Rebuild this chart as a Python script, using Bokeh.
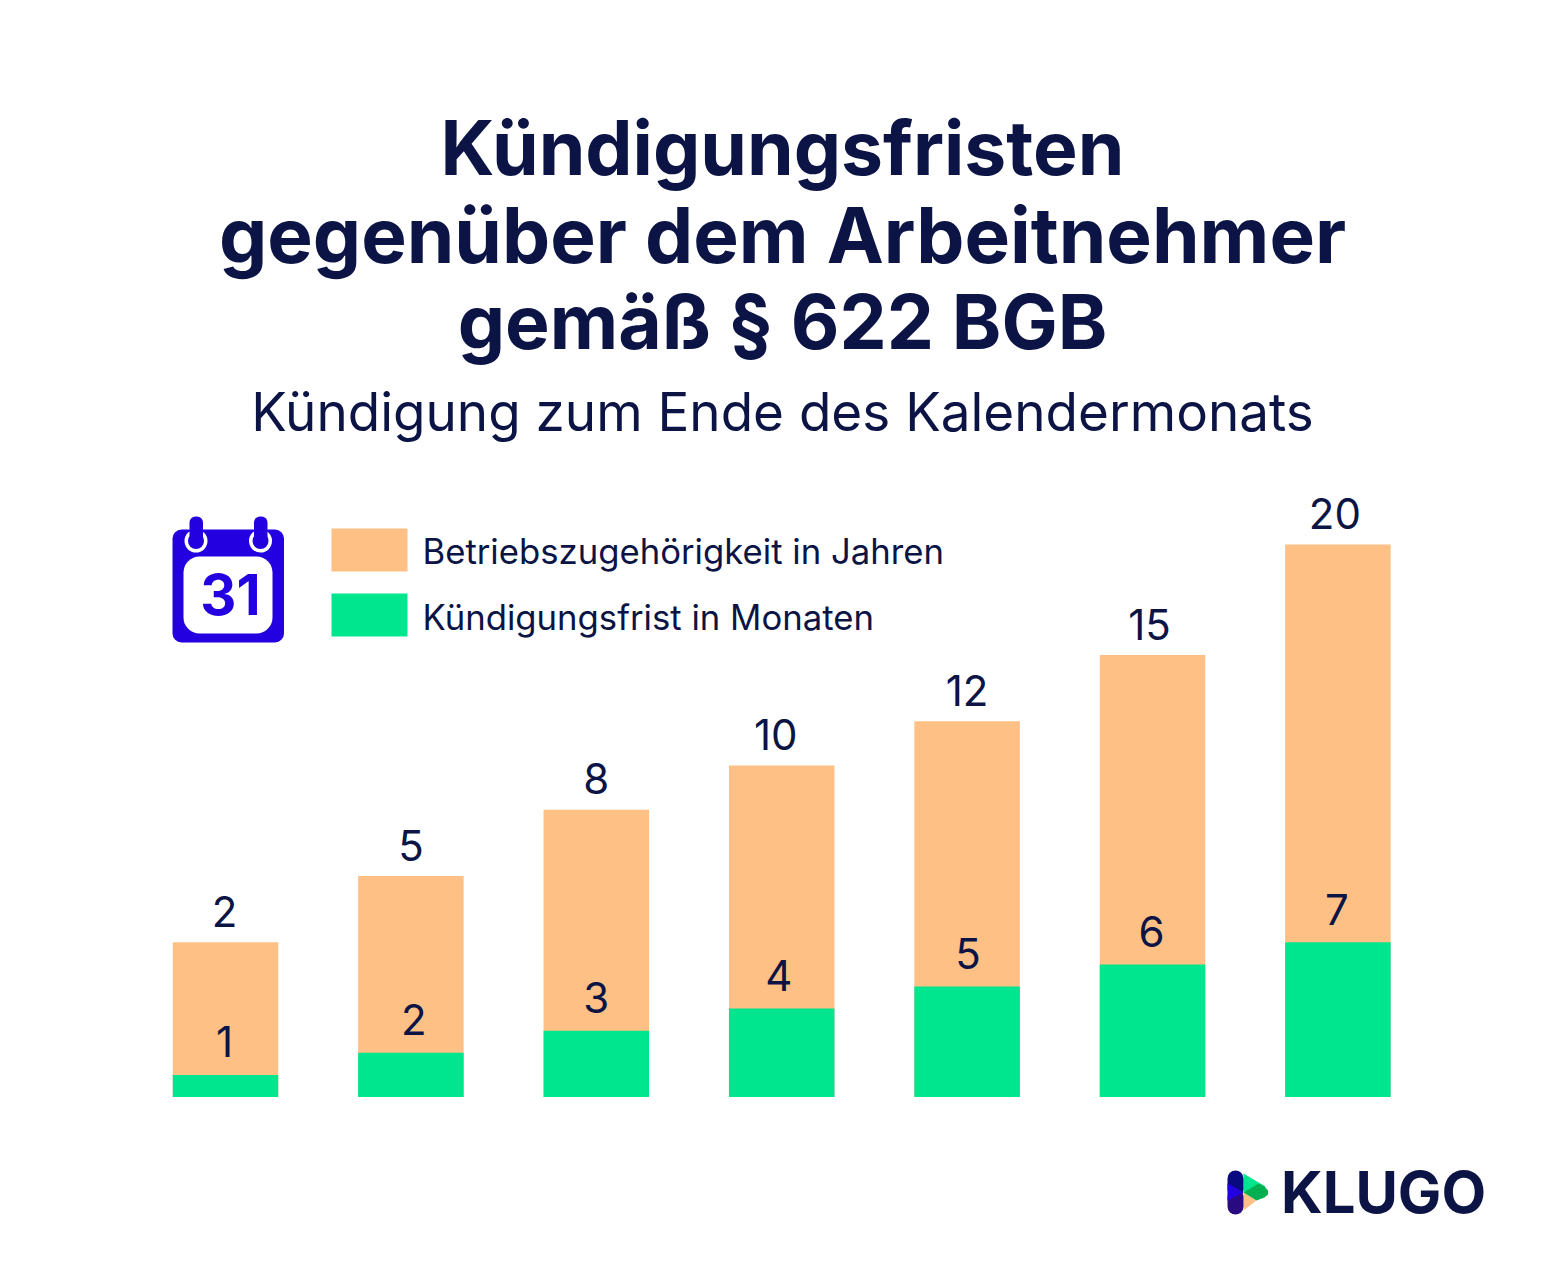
from bokeh.plotting import figure
from bokeh.models import Range1d, ColumnDataSource
from bokeh.embed import file_html
from bokeh.resources import INLINE
from bokeh.core.properties import value

# --- data -------------------------------------------------------------
positions = [0, 1, 2, 3, 4, 5, 6]
jahre_labels = ["2", "5", "8", "10", "12", "15", "20"]
monate_labels = ["1", "2", "3", "4", "5", "6", "7"]
# bar tops as drawn in the picture (same scale for both series)
orange_tops = [7, 10, 13, 15, 17, 20, 25]
green_tops = [1, 2, 3, 4, 5, 6, 7]
jahre_nudge = [-1, 0, 0, -6, 0, -3, -3]
monate_nudge = [-1, 3, 0, -3, 1, -1, -1]

title_lines = ["Kündigungsfristen", "gegenüber dem Arbeitnehmer", "gemäß § 622 BGB"]
title_sizes = [75, 76.5, 75]
subtitle = "Kündigung zum Ende des Kalendermonats"
legend_labels = ["Betriebszugehörigkeit in Jahren", "Kündigungsfrist in Monaten"]

NAVY = "#0B1444"; ORANGE = "#FFC085"; GREEN = "#00E68E"; BLUE = "#2200E0"
FONT = "Inter"
W, H = 1547, 1262
UNIT = 22.1; STEP = 185.4; X0 = 225; BASE = 1096.5

p = figure(width=W, height=H, output_backend="svg", toolbar_location=None,
           x_range=Range1d((0 - X0) / STEP, (W - X0) / STEP),
           y_range=Range1d((BASE - H) / UNIT, BASE / UNIT),
           min_border=0, outline_line_color=None, background_fill_color="white",
           x_axis_type=None, y_axis_type=None)
p.grid.visible = False
# pixel frame for decoration (title, legend, icon, logo)
p.extra_x_ranges["px"] = Range1d(0, W)
p.extra_y_ranges["px"] = Range1d(H, 0)
PX = dict(x_range_name="px", y_range_name="px")

src = ColumnDataSource(dict(x=positions, top_o=orange_tops, top_g=green_tops,
                            lab_o=jahre_labels, lab_g=monate_labels,
                            nud_o=jahre_nudge, nud_g=monate_nudge))
BW = 105.5 / STEP
p.vbar(x="x", top="top_o", bottom=0, width=BW, fill_color=ORANGE, line_color=None, source=src)
p.vbar(x="x", top="top_g", bottom=0, width=BW, fill_color=GREEN, line_color=None, source=src)
p.text(x="x", y="top_o", text="lab_o", x_offset="nud_o", y_offset=-31, text_align="center", text_baseline="middle",
       text_font=value(FONT), text_font_size="42px", text_color=NAVY, source=src)
p.text(x="x", y="top_g", text="lab_g", x_offset="nud_g", y_offset=-33, text_align="center", text_baseline="middle",
       text_font=value(FONT), text_font_size="42px", text_color=NAVY, source=src)

def label(x, y, t, size, color=NAVY, align="center", style="normal"):
    p.text(x=[x], y=[y], text=[t], text_align=align, text_baseline="middle",
           text_font=value(FONT), text_font_size=f"{size}px", text_color=color,
           text_font_style=style, **PX)

for y, t, s in zip([147, 234, 321], title_lines, title_sizes):
    label(782, y, t, s, style="bold")
label(782, 411, subtitle, 53)

# legend
p.quad(left=[331, 331], right=[407, 407], top=[528, 593], bottom=[571, 636],
       fill_color=[ORANGE, GREEN], line_color=None, **PX)
label(422, 550, legend_labels[0], 34.7, align="left")
label(422, 616, legend_labels[1], 34.7, align="left")

# calendar icon
p.quad(left=[172], right=[283.5], top=[529], bottom=[642], fill_color=BLUE, line_color=None, border_radius=9, **PX)
p.quad(left=[183], right=[272], top=[556], bottom=[633], fill_color="white", line_color=None, border_radius=16, **PX)
p.scatter(x=[195.5, 260], y=[540.5, 540.5], size=23, fill_color="white", line_color=None, **PX)
p.scatter(x=[195.5, 260], y=[540.5, 540.5], size=16, fill_color=BLUE, line_color=None, **PX)
p.quad(left=[189, 253.5], right=[202.5, 267], top=[516, 516], bottom=[544, 544], fill_color=BLUE, line_color=None,
       border_radius=6, **PX)
label(230, 594, "31", 56, color=BLUE, style="bold")

# logo
p.patch(x=[1243, 1265, 1258, 1243], y=[1173, 1186, 1190, 1192], fill_color=GREEN, line_color=None, **PX)
p.patch(x=[1243, 1256, 1243], y=[1192, 1200, 1210], fill_color=ORANGE, line_color=None, **PX)
p.patch(x=[1243, 1258, 1264, 1267.5, 1267.5, 1264, 1256], y=[1192, 1183, 1186, 1190, 1194, 1197, 1200],
        fill_color="#00B050", line_color=None, **PX)
p.quad(left=[1227], right=[1243], top=[1170], bottom=[1197], fill_color="#0A0A80", line_color=None, border_radius=8, **PX)
p.quad(left=[1227], right=[1243], top=[1188], bottom=[1214], fill_color="#2A0A80", line_color=None, border_radius=8, **PX)
p.patch(x=[1227, 1243, 1227], y=[1183, 1192, 1200], fill_color=BLUE, line_color=None, **PX)
label(1383, 1191, "KLUGO", 58, style="bold")

open("out.html", "w").write(file_html(p, INLINE))
